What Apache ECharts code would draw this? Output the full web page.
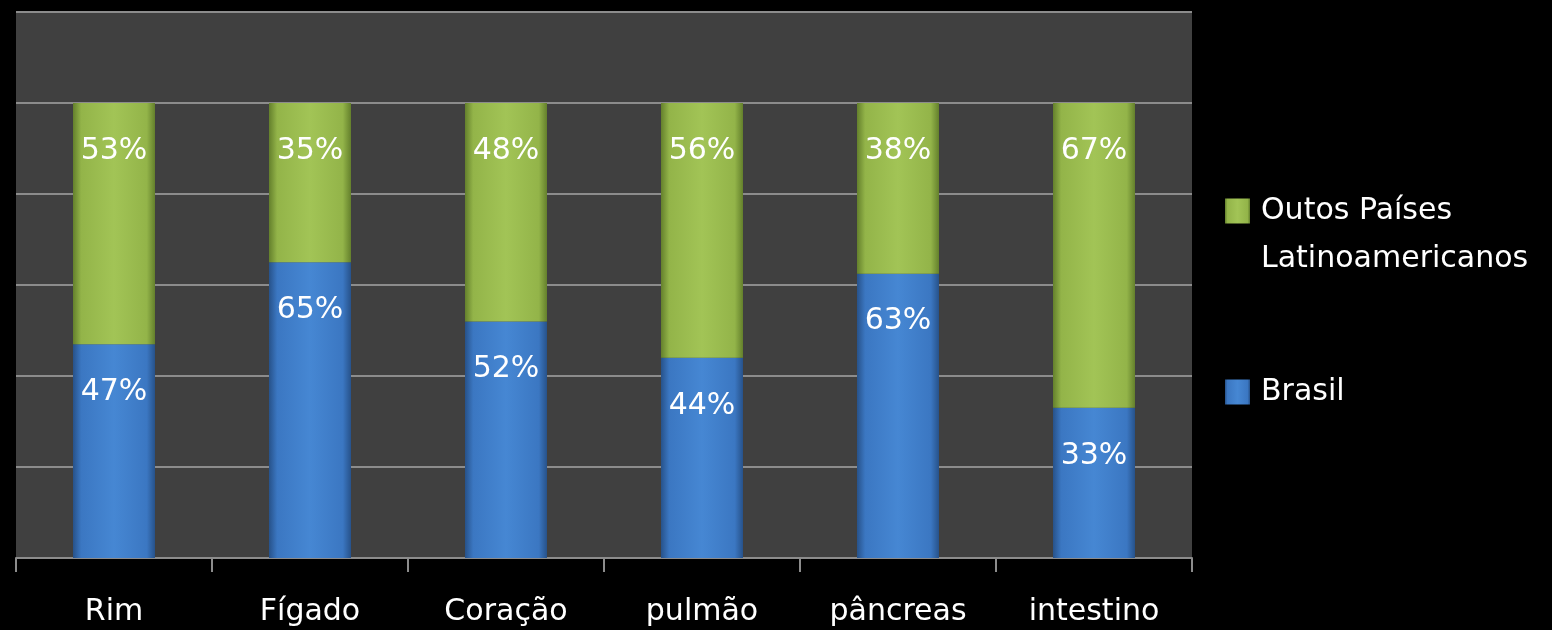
<!DOCTYPE html>
<html>
<head>
<meta charset="utf-8">
<script src="https://cdn.jsdelivr.net/npm/echarts@6/dist/echarts.min.js"></script>
<style>
html,body{margin:0;padding:0;background:#000;}
#c{width:1552px;height:630px;}
</style>
</head>
<body>
<div id="c"></div>
<script>
const categories = ['Rim', 'Fígado', 'Coração', 'pulmão', 'pâncreas', 'intestino'];
const brasil = [47, 65, 52, 44, 62.5, 33];
const outros = [53, 35, 48, 56, 37.5, 67];
const seriesNames = ['Brasil', 'Outos Países Latinoamericanos'];
const yTicks = [0, 20, 40, 60, 80, 100, 120];

const FONT = 'DejaVu Sans';

function hGrad(edge, mid, center) {
  return new echarts.graphic.LinearGradient(0, 0, 1, 0, [
    {offset: 0, color: edge},
    {offset: 0.1, color: mid},
    {offset: 0.5, color: center},
    {offset: 0.9, color: mid},
    {offset: 1, color: edge}
  ]);
}
function pct(p) { return Math.round(p.value) + '%'; }

const chart = echarts.init(document.getElementById('c'), null, {renderer: 'canvas'});
chart.setOption({
  backgroundColor: '#000000',
  animation: false,
  grid: {
    left: 16, right: 360, top: 12, bottom: 72,
    show: true, backgroundColor: '#404040', borderWidth: 0
  },
  legend: [
    {
      data: [seriesNames[1]],
      left: 1220, top: 134,
      itemWidth: 25, itemHeight: 25,
      icon: 'rect',
      formatter: function () { return '\nOutos Países\nLatinoamericanos'; },
      textStyle: {color: '#ffffff', fontFamily: FONT, fontSize: 30, lineHeight: 48, padding: [0, 0, 0, 6]}
    },
    {
      data: [seriesNames[0]],
      left: 1220, top: 363,
      itemWidth: 25, itemHeight: 25,
      icon: 'rect',
      textStyle: {color: '#ffffff', fontFamily: FONT, fontSize: 30, lineHeight: 48, padding: [0, 0, 0, 6]}
    }
  ],
  xAxis: {
    type: 'category',
    data: categories,
    axisLine: {show: true, lineStyle: {color: '#8c8c8c', width: 2}},
    axisTick: {show: true, length: 14, lineStyle: {color: '#8c8c8c', width: 2}},
    axisLabel: {color: '#ffffff', fontFamily: FONT, fontSize: 30, margin: 39},
    splitLine: {show: false}
  },
  yAxis: {
    type: 'value',
    min: yTicks[0], max: yTicks[yTicks.length - 1], interval: 20,
    axisLine: {show: false},
    axisTick: {show: false},
    axisLabel: {show: false},
    splitLine: {show: true, lineStyle: {color: '#8c8c8c', width: 2}}
  },
  series: [
    {
      name: seriesNames[0],
      type: 'bar',
      stack: 'total',
      barWidth: 82,
      data: brasil,
      itemStyle: {color: hGrad('#27528a', '#3b77c2', '#4687d3')},
      label: {
        show: true, position: 'insideTop', distance: 33,
        formatter: pct, color: '#ffffff', fontFamily: FONT, fontSize: 30
      }
    },
    {
      name: seriesNames[1],
      type: 'bar',
      stack: 'total',
      barWidth: 82,
      data: outros,
      itemStyle: {color: hGrad('#64802c', '#93b449', '#a2c456')},
      label: {
        show: true, position: 'insideTop', distance: 33,
        formatter: pct, color: '#ffffff', fontFamily: FONT, fontSize: 30
      }
    }
  ]
});
</script>
</body>
</html>
